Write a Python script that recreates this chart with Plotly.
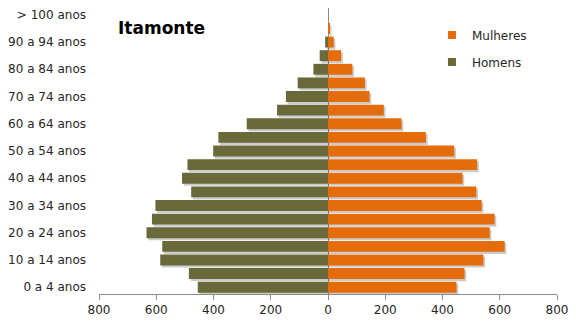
import plotly.graph_objects as go

# Age groups, youngest first
age_groups = [
    "0 a 4 anos", "5 a 9 anos", "10 a 14 anos", "15 a 19 anos", "20 a 24 anos",
    "25 a 29 anos", "30 a 34 anos", "35 a 39 anos", "40 a 44 anos", "45 a 49 anos",
    "50 a 54 anos", "55 a 59 anos", "60 a 64 anos", "65 a 69 anos", "70 a 74 anos",
    "75 a 79 anos", "80 a 84 anos", "85 a 89 anos", "90 a 94 anos", "95 a 99 anos",
    "> 100 anos",
]
homens = [455, 486, 586, 579, 634, 615, 603, 478, 510, 491, 401, 383, 284, 178,
          147, 106, 51, 29, 10, 0, 0]
mulheres = [449, 477, 543, 617, 565, 582, 537, 518, 470, 521, 441, 342, 257, 195,
            145, 129, 85, 46, 20, 6, 0]
x_ticks = [-800, -600, -400, -200, 0, 200, 400, 600, 800]

ORANGE = "#E46C0A"
OLIVE = "#69693A"
FONT = "DejaVu Sans"

pos = list(range(len(age_groups)))
shadow_pos = [p - 0.16 for p in pos]

fig = go.Figure()

# soft drop shadows behind the bars
fig.add_trace(go.Bar(y=shadow_pos, x=mulheres, base=6, orientation="h", width=0.8,
                     marker=dict(color="rgba(0,0,0,0.2)", line_width=0),
                     showlegend=False, hoverinfo="skip"))
fig.add_trace(go.Bar(y=shadow_pos, x=[-v for v in homens], base=6, orientation="h",
                     width=0.8, marker=dict(color="rgba(0,0,0,0.2)", line_width=0),
                     showlegend=False, hoverinfo="skip"))

# population bars
fig.add_trace(go.Bar(y=pos, x=[-v for v in homens], orientation="h", width=0.8,
                     name="Homens", marker=dict(color=OLIVE, line_width=0),
                     showlegend=False))
fig.add_trace(go.Bar(y=pos, x=mulheres, orientation="h", width=0.8,
                     name="Mulheres", marker=dict(color=ORANGE, line_width=0),
                     showlegend=False))

# legend entries with small square keys
fig.add_trace(go.Scatter(x=[None], y=[None], mode="markers", name="Mulheres",
                         legendgroup="m",
                         marker=dict(symbol="square", size=8, color=ORANGE)))
fig.add_trace(go.Scatter(x=[None], y=[None], mode="markers", name="Homens",
                         legendgroup="h",
                         marker=dict(symbol="square", size=8, color=OLIVE)))

fig.update_layout(
    width=576, height=327,
    margin=dict(l=97, r=19, t=8, b=33),
    paper_bgcolor="white", plot_bgcolor="white",
    barmode="overlay",
    font=dict(family=FONT, size=12, color="#262626"),
    title=dict(text="<b>Itamonte</b>", x=118 / 576, xanchor="left", xref="container",
               y=1 - 28 / 327, yanchor="middle", yref="container",
               font=dict(family=FONT, size=17, color="black")),
    legend=dict(x=0.727, y=0.956, xanchor="left", yanchor="top",
                traceorder="grouped", tracegroupgap=8,
                font=dict(family=FONT, size=12, color="#262626"),
                bgcolor="rgba(0,0,0,0)"),
    showlegend=True,
)

fig.update_xaxes(
    range=[-800, 800], tickvals=x_ticks, ticktext=[str(abs(v)) for v in x_ticks],
    showgrid=False, showline=True, linecolor="#8C8C8C", linewidth=1,
    ticks="outside", ticklen=5, tickcolor="#8C8C8C",
    zeroline=True, zerolinecolor="#8C8C8C", zerolinewidth=1,
    tickfont=dict(size=12),
)
fig.update_yaxes(
    range=[-0.5, 20.5], tickvals=pos[::2], ticktext=age_groups[::2],
    showgrid=False, showline=False, zeroline=False, ticks="",
    ticklabelstandoff=12, tickfont=dict(size=12),
)

fig.write_html("out.html")
